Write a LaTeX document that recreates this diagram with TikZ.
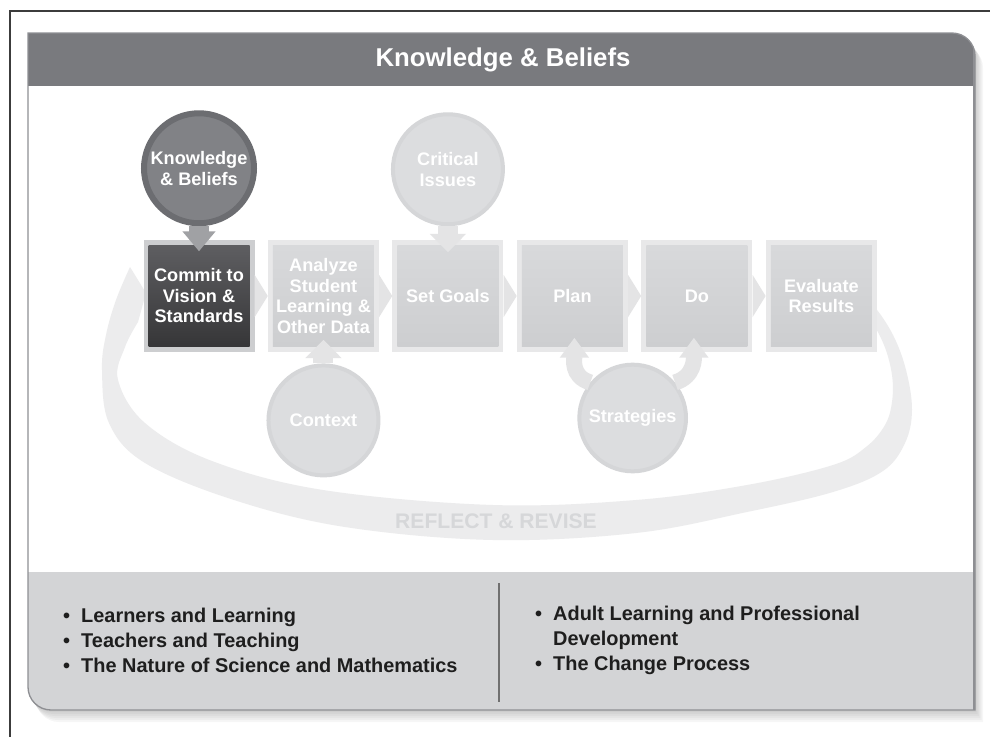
\documentclass[tikz,border=0pt]{standalone}
\usepackage{fontspec}
\setmainfont{Liberation Sans}
\usepackage{xcolor}
\usepackage{tikz}
\usetikzlibrary{arrows.meta,positioning,calc}

\definecolor{headgray}{HTML}{797A7E}
\definecolor{footgray}{HTML}{D3D4D6}
\definecolor{edgegray}{HTML}{8E8F93}
\definecolor{framegray}{HTML}{3C3C3C}
\definecolor{loopgray}{HTML}{ECECED}
\definecolor{looptext}{HTML}{D6D7D9}
\definecolor{boxtop}{HTML}{D8D9DB}
\definecolor{boxbot}{HTML}{CDCED0}
\definecolor{boxhalo}{HTML}{E8E8E9}
\definecolor{darktop}{HTML}{5E5E61}
\definecolor{darkbot}{HTML}{363638}
\definecolor{darkhalo}{HTML}{CDCED0}
\definecolor{ballgray}{HTML}{DCDDDF}
\definecolor{ballrim}{HTML}{D5D6D8}
\definecolor{kbfill}{HTML}{818286}
\definecolor{kbrim}{HTML}{6C6D71}
\definecolor{kbarrowgray}{HTML}{A0A1A4}
\definecolor{softgray}{HTML}{E4E4E5}
\definecolor{textdark}{HTML}{1E1E1E}
\definecolor{divgray}{HTML}{707070}

\newcommand{\itembullet}{\makebox[0.54cm][l]{\textbullet}}

\tikzset{
  panelshape/.style={insert path={(28,33) -- (952,33) .. controls (964.7,33) and (975,43.3) .. (975,56)
      -- (975,710) -- (51,710) .. controls (38.3,710) and (28,699.7) .. (28,687) -- cycle}},
  boxfont/.style={font=\fontsize{15.5}{17.5}\selectfont\bfseries},
  stepbox/.style={rectangle, minimum size=3.03cm, inner sep=0pt, align=center, text=white, boxfont,
      top color=boxtop, bottom color=boxbot, preaction={draw=boxhalo, line width=0.3cm}},
  darkstep/.style={rectangle, minimum size=3.03cm, inner sep=0pt, align=center, text=white, boxfont,
      top color=darktop, bottom color=darkbot, preaction={draw=darkhalo, line width=0.3cm}},
  ball/.style={circle, minimum size=3.3cm, inner sep=0pt, align=center, text=white, boxfont,
      fill=ballgray, draw=ballrim, line width=0.12cm},
  kball/.style={ball, fill=kbfill, draw=kbrim, line width=0.18cm},
  kbarrow/.style={draw=kbarrowgray, line width=0.6cm, -{Triangle[length=0.6cm, width=0.96cm]}},
  softarrow/.style={draw=softgray, line width=0.6cm, -{Triangle[length=0.55cm, width=1.05cm]}},
  bentarrow/.style={draw=softgray, line width=0.48cm, -{Triangle[length=0.6cm, width=0.84cm]}},
  chevron/.style={fill=softgray},
  listtext/.style={align=left, inner sep=0pt, text=textdark, font=\fontsize{17}{21.3}\selectfont\bfseries}
}

\begin{document}
\begin{tikzpicture}[x=0.03cm, y=-0.03cm]
  \useasboundingbox (0,0) rectangle (990,737);
  % outer frame, only top and left are seen
  \draw[framegray, line width=0.06cm] (990,11) -- (10,11) -- (10,737);

  % soft shadow of the panel
  \foreach \s in {1,...,6}
    \fill[black, opacity=0.035, xshift=\s*0.04cm, yshift=-\s*0.06cm, panelshape];

  % the panel: header, white body, gray footer
  \begin{scope}
    \clip[panelshape];
    \fill[white] (28,33) rectangle (975,710);
    \fill[headgray] (28,33) rectangle (975,86);
    \fill[footgray] (28,572) rectangle (975,710);
    \draw[edgegray, line width=0.12cm] (975,33) -- (975,710);
  \end{scope}
  \draw[edgegray, line width=0.04cm, panelshape];
  \node[text=white, font=\fontsize{22}{25}\selectfont\bfseries] (title) at (503,60) {Knowledge \& Beliefs};

  % reflect and revise loop under the boxes
  \fill[loopgray] plot[smooth, tension=0.6] coordinates {(130,267) (116,300) (106,335) (102,370) (109,423)
      (145,463) (234,500) (345,527) (493,540) (636,533) (747,512) (833,492) (883,471) (905,443)
      (912,410) (906,370) (893,335) (873,305) (850,285)}
    -- plot[smooth, tension=0.6] coordinates {(850,320) (870,322) (884,345) (892,375) (892,402)
      (885,425) (866,447) (833,465) (747,485) (636,500) (493,505) (323,490) (212,461) (145,423)
      (118,380) (125,347) (138,322)}
    -- (146,293) -- cycle;
  \node[text=looptext, font=\fontsize{18}{20}\selectfont\bfseries] (reflect) at (496,521) {REFLECT \& REVISE};

  % row of steps
  \node[darkstep] (commit) at (199,296) {Commit to\\Vision \&\\Standards};
  \node[stepbox, right=0.69cm of commit] (analyze) {Analyze\\Student\\Learning \&\\Other Data};
  \node[stepbox, right=0.69cm of analyze] (goals) {Set Goals};
  \node[stepbox, right=0.69cm of goals] (plan) {Plan};
  \node[stepbox, right=0.69cm of plan] (do) {Do};
  \node[stepbox, right=0.69cm of do] (evaluate) {Evaluate\\Results};

  % chevrons between the steps
  \foreach \a in {commit,analyze,goals,plan,do}
    \fill[chevron] ($(\a.east)+(5,-21)$) -- ($(\a.east)+(18,0)$) -- ($(\a.east)+(5,21)$) -- cycle;

  % circles round the row
  \node[kball, above=0.57cm of commit] (know) {Knowledge\\\& Beliefs};
  \node[ball, above=0.57cm of goals] (critical) {Critical\\Issues};
  \node[ball, below=0.5cm of analyze] (context) {Context};
  \node[ball, minimum size=3.2cm] (strat) at ($(plan.center)!0.5!(do.center)+(-2,122)$) {Strategies};

  % arrows into the steps
  \draw[kbarrow] (know.south) -- ($(commit.north)+(0,6)$);
  \draw[softarrow] (critical.south) -- ($(goals.north)+(0,7)$);
  \draw[softarrow] (context.north) -- ($(analyze.south)+(0,-7)$);
  \draw[bentarrow] (strat.140) .. controls +(-20,-6) and +(0,20) .. ($(plan.south)+(2,-9)$);
  \draw[bentarrow] (strat.40) .. controls +(20,-6) and +(0,20) .. ($(do.south)+(-3,-9)$);

  % footer lists
  \node[listtext, anchor=west] (leftlist) at (63,640) {\itembullet Learners and Learning\\
    \itembullet Teachers and Teaching\\
    \itembullet The Nature of Science and Mathematics};
  \draw[divgray, line width=0.05cm] (499,583) -- (499,702);
  \node[listtext, anchor=west] (rightlist) at (535,640) {\itembullet Adult Learning and Professional\\
    \hspace*{0.54cm}Development\\
    \itembullet The Change Process};
\end{tikzpicture}
\end{document}
